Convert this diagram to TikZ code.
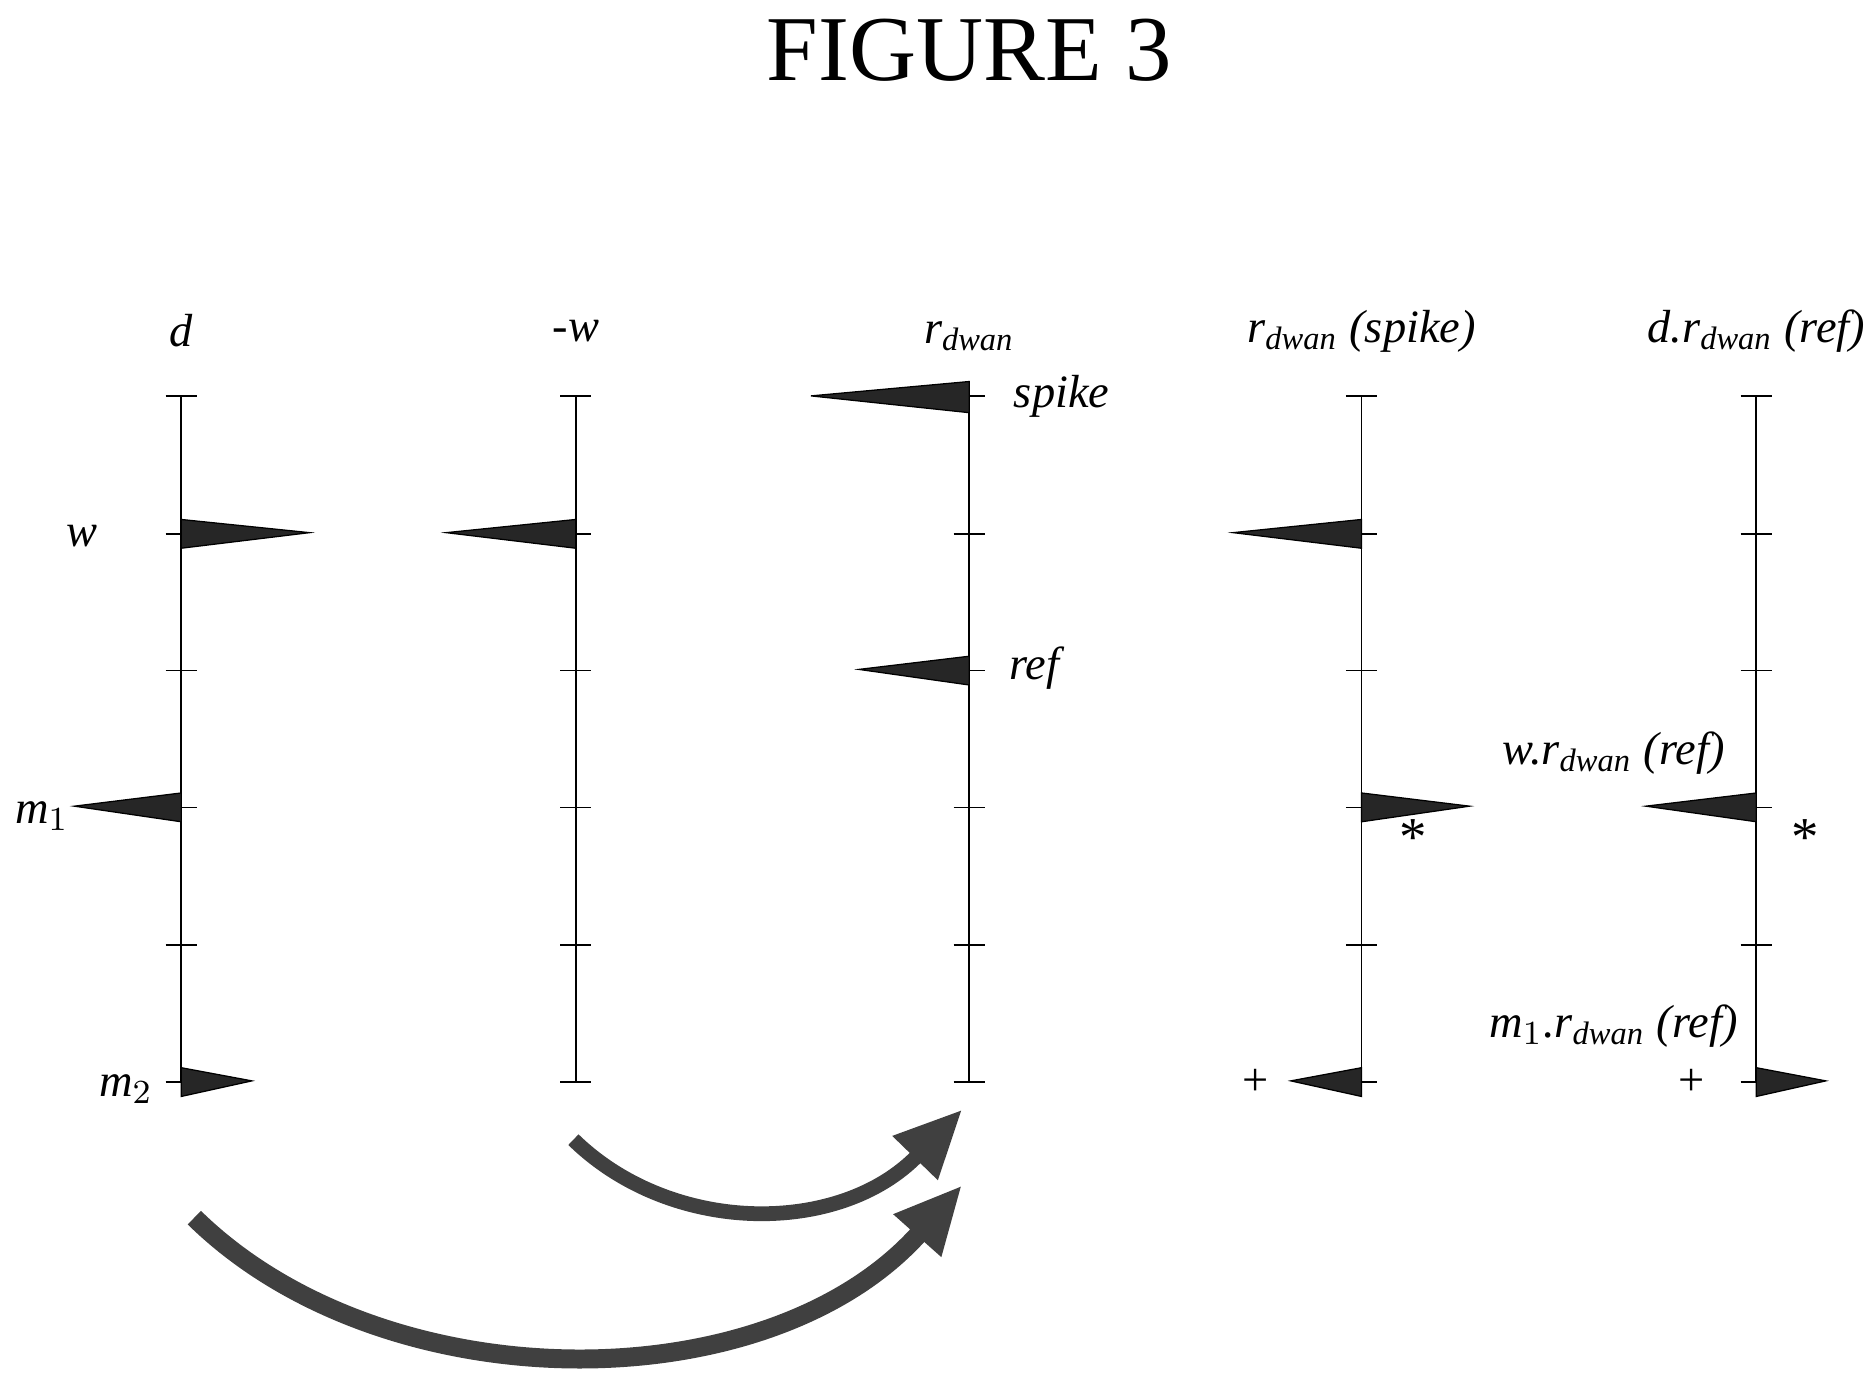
\documentclass[tikz,border=0pt]{standalone}
\usepackage{fontspec}
\setmainfont{Liberation Serif}
\usetikzlibrary{arrows.meta}

\tikzset{
  lbl/.style={font=\fontsize{11}{13}\selectfont\itshape},
  flag/.style={fill=black!85, draw=black, line width=0.3pt},
  bigarrow/.style={line width=3.5pt, draw=black!75, -{Triangle[length=16pt,width=14pt]}}
}
% flag on axis at x, row y, tip at x
\newcommand{\flagat}[3]{\fill[flag] (#1,#2-12) -- (#1,#2+12) -- (#3,#2-1) -- cycle;}

\begin{document}
\begin{tikzpicture}[x=0.01cm, y=-0.01cm]
  \useasboundingbox (0,0) rectangle (1563,1147);
  \node[font=\fontsize{22}{26}\selectfont] (title) at (808,42) {FIGURE 3};

  % axes with ticks
  \foreach \ax/\x in {d/151, mw/480, r/808, rs/1135, dr/1464} {
    \draw[thin] (\x,330) -- (\x,902);
    \foreach \y in {330,445,559,673,788,902}
      \draw[thin] (\x-13,\y) -- (\x+13,\y);
  }

  % axis titles
  \node[lbl] (td) at (151,276) {d};
  \node[lbl] (tmw) at (480,276) {-w};
  \node[lbl] (tr) at (808,280) {r$_{\mathit{dwan}}$};
  \node[lbl] (trs) at (1135,276) {r$_{\mathit{dwan}}$ (spike)};
  \node[lbl] (tdr) at (1464,276) {d.r$_{\mathit{dwan}}$ (ref)};

  % flags
  \flagat{151}{445}{258}
  \flagat{151}{673}{62}
  \flagat{151}{902}{210}
  \flagat{480}{445}{372}
  \fill[flag] (808,318) -- (808,344) -- (676,330) -- cycle;
  \flagat{808}{559}{716}
  \flagat{1135}{445}{1028}
  \flagat{1135}{673}{1225}
  \flagat{1135}{902}{1076}
  \flagat{1464}{673}{1372}
  \flagat{1464}{902}{1522}

  % side labels
  \node[lbl] (lw) at (68,447) {w};
  \node[lbl] (lm1) at (35,680) {m$_1$};
  \node[lbl] (lm2) at (105,908) {m$_2$};
  \node[lbl] (lspike) at (885,330) {spike};
  \node[lbl] (lref) at (862,557) {ref};
  \node[lbl] (lwr) at (1345,628) {w.r$_{\mathit{dwan}}$ (ref)};
  \node[lbl] (lmr) at (1345,855) {m$_1$.r$_{\mathit{dwan}}$ (ref)};
  \node[lbl,font=\fontsize{13}{13}\selectfont] (s1) at (1178,698) {*};
  \node[lbl,font=\fontsize{13}{13}\selectfont] (s2) at (1505,698) {*};
  \node[font=\fontsize{11}{13}\selectfont] (p1) at (1047,902) {+};
  \node[font=\fontsize{11}{13}\selectfont] (p2) at (1410,902) {+};

  % curved arrows
  \coordinate (a1s) at (478,950);
  \coordinate (a1e) at (802,925);
  \coordinate (a2s) at (162,1015);
  \coordinate (a2e) at (802,988);
  \draw[bigarrow] (a1s) .. controls (560,1030) and (700,1030) .. (a1e);
  \draw[bigarrow, line width=4.5pt] (a2s) .. controls (320,1170) and (640,1170) .. (a2e);
\end{tikzpicture}
\end{document}
